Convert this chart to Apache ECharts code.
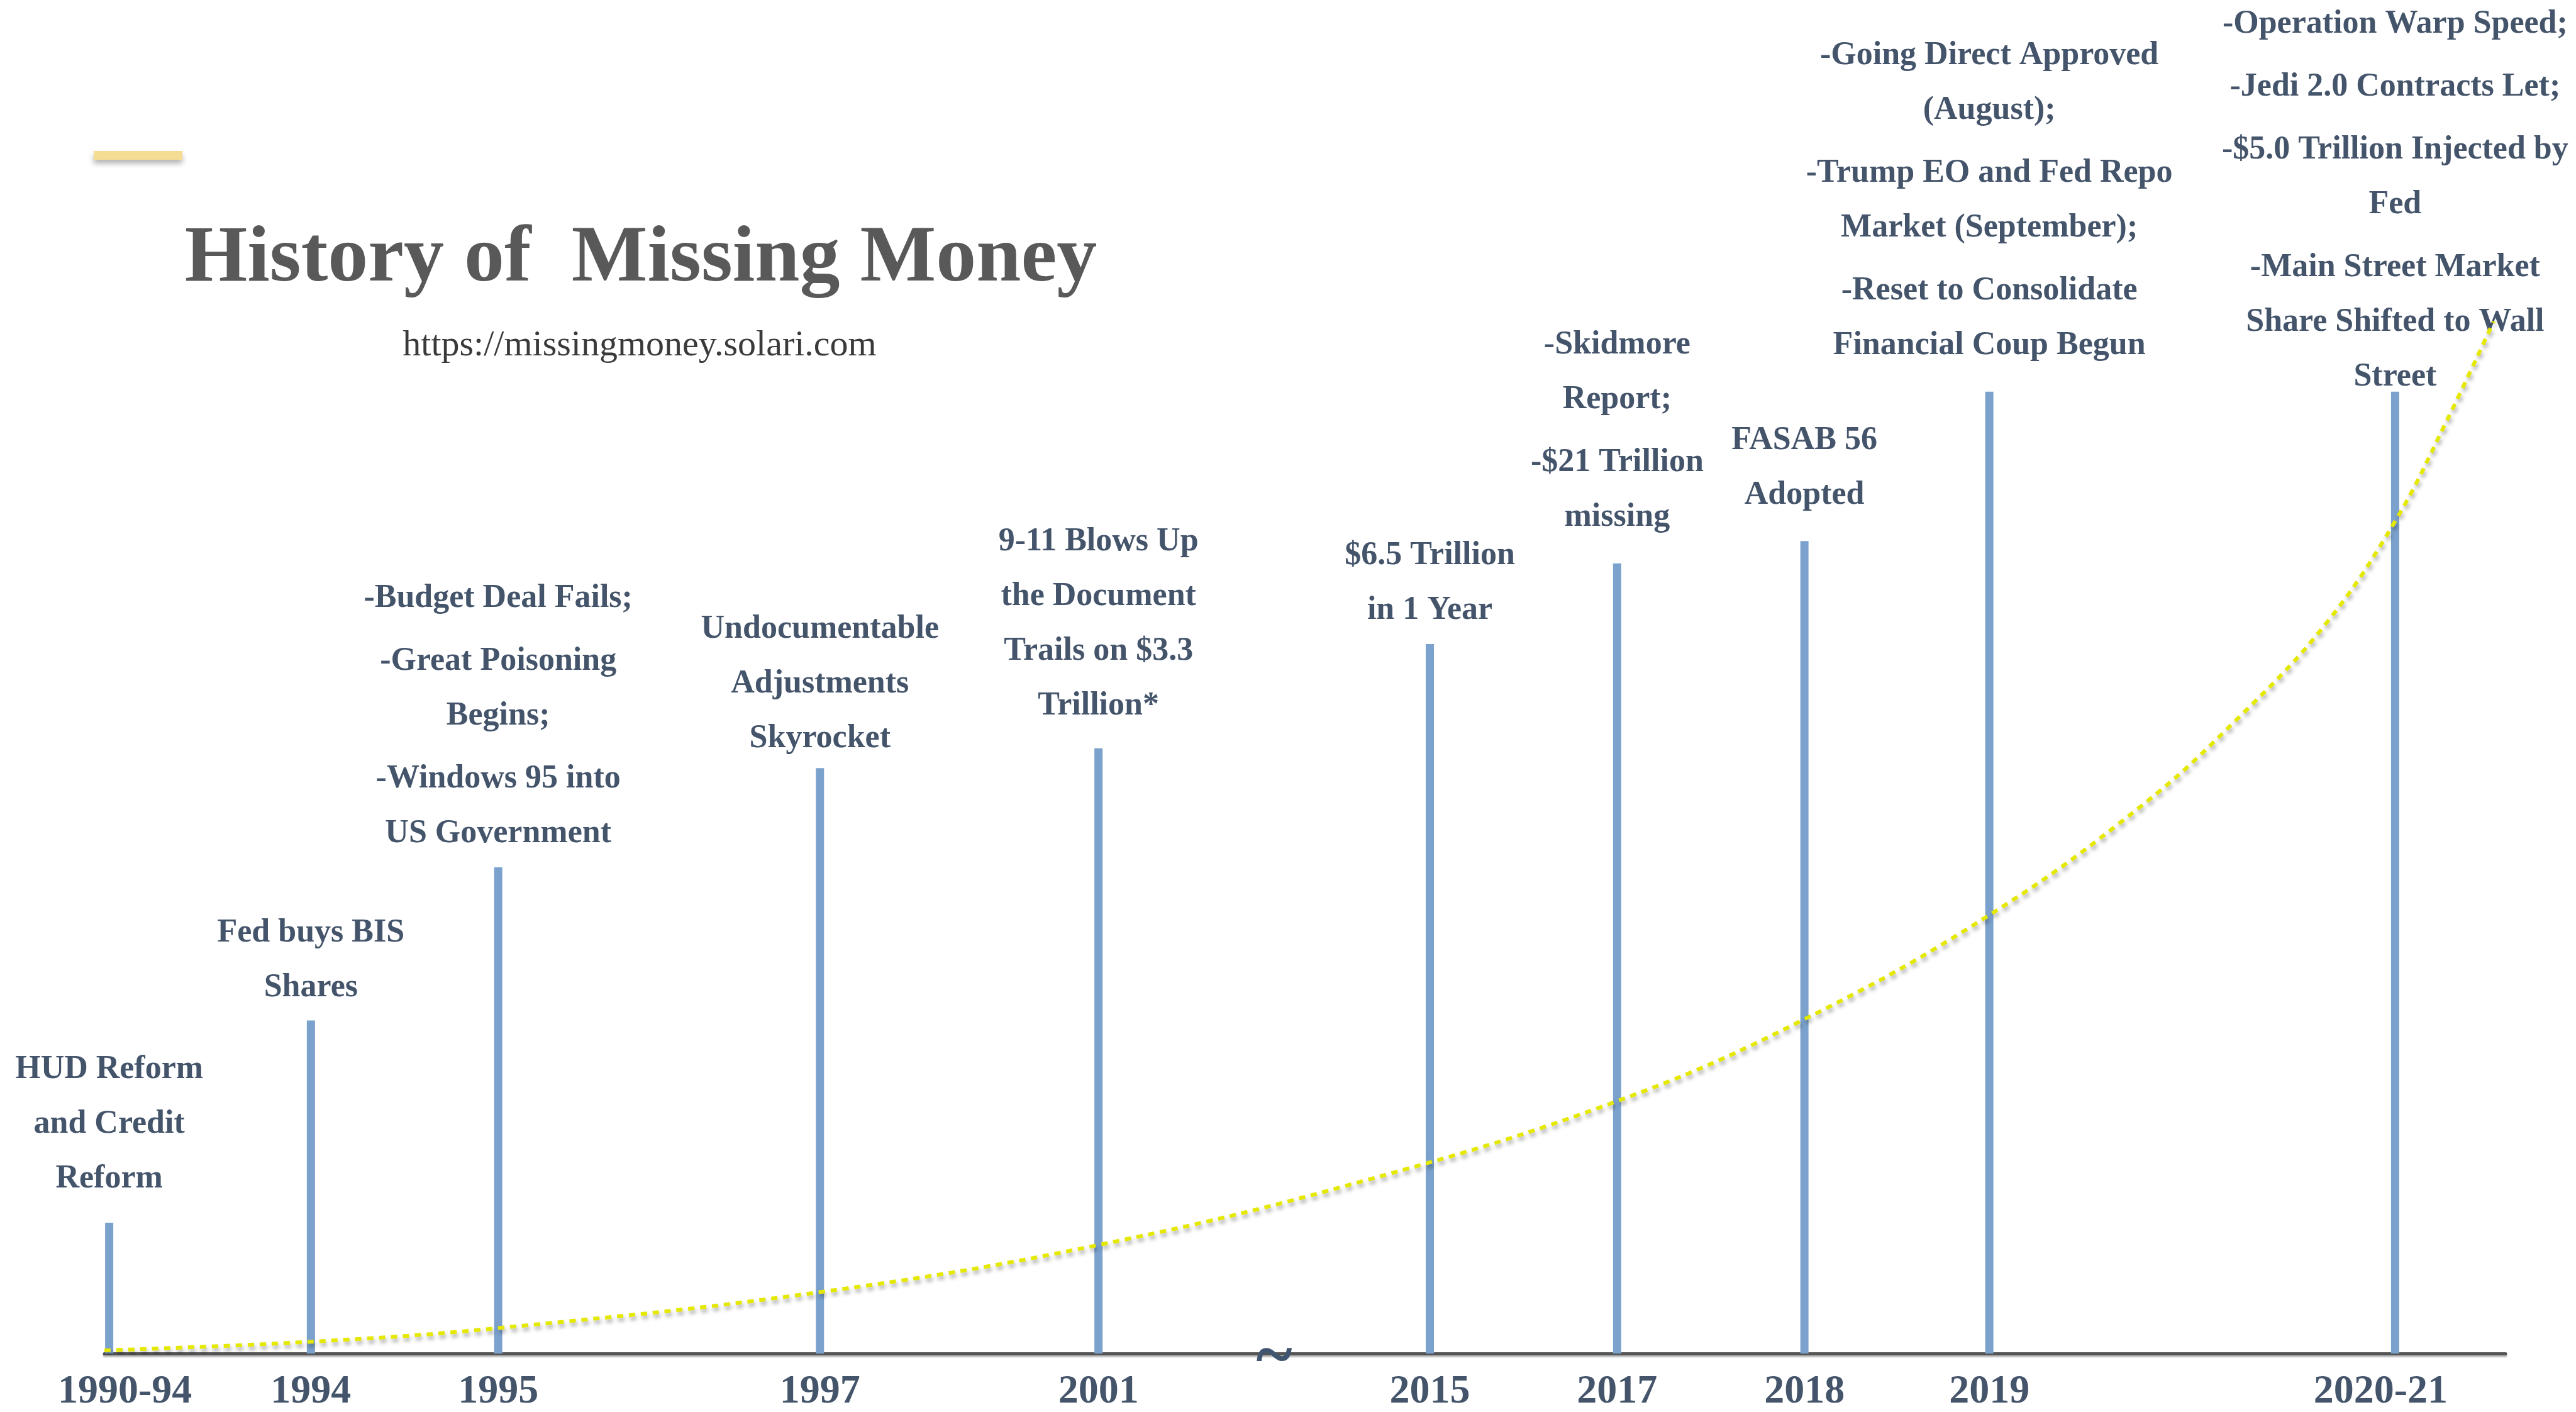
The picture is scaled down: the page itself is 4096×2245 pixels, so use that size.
<!DOCTYPE html>
<html>
<head>
<meta charset="utf-8">
<title>History of Missing Money</title>
<script src="https://cdn.jsdelivr.net/npm/echarts@6/dist/echarts.min.js"></script>
<style>
  html, body { margin: 0; padding: 0; background: #fff; }
  #chart { width: 4096px; height: 2245px; }
</style>
</head>
<body>
<div id="chart"></div>
<script>
// timeline data (position along the broken time axis, 0-100)
const eventLabels = ['1990-94', '1994', '1995', '1997', '2001', '2015', '2017', '2018', '2019', '2020-21'];
const eventPos = [0.2, 8.6, 16.4, 29.8, 41.4, 55.2, 63.0, 70.8, 78.5, 95.4];
const barHeights = [10.55, 26.85, 39.2, 47.2, 48.8, 57.2, 63.7, 65.5, 77.55, 77.55];

// notes above each bar: one entry per paragraph, \n = line break
const eventNotes = [
  ['HUD Reform\nand Credit\nReform'],
  ['Fed buys BIS\nShares'],
  ['-Budget Deal Fails;', '-Great Poisoning\nBegins;', '-Windows 95 into\nUS Government'],
  ['Undocumentable\nAdjustments\nSkyrocket'],
  ['9-11 Blows Up\nthe Document\nTrails on $3.3\nTrillion*'],
  ['$6.5 Trillion\nin 1 Year'],
  ['-Skidmore\nReport;', '-$21 Trillion\nmissing'],
  ['FASAB 56\nAdopted'],
  ['-Going Direct Approved\n(August);', '-Trump EO and Fed Repo\nMarket (September);', '-Reset to Consolidate\nFinancial Coup Begun'],
  ['-Operation Warp Speed;', '-Jedi 2.0 Contracts Let;', '-$5.0 Trillion Injected by\nFed', '-Main Street Market\nShare Shifted to Wall\nStreet']
];

// dotted growth curve
const trendX = [0, 8.6, 16.4, 29.8, 41.4, 52.6, 63.0, 70.8, 78.5, 84.8, 88.9, 92.5, 95.4, 97.5, 99.5];
const trendY = [0.25, 0.95, 2.05, 4.95, 8.75, 14.0, 20.35, 26.95, 35.35, 44.1, 51.3, 58.8, 67.1, 75.0, 83.2];

const serif = '"Liberation Serif", "Times New Roman", serif';
const noteColor = '#44546a';
// gap between each note and its bar (px)
const noteLift = [26, 8, 10, 3, 24, 10, 30, 29, 30, -20];

function buildNote(paras) {
  return paras
    .map(p => p.split('\n').map(l => '{t|' + l + '}').join('\n'))
    .join('\n{g| }\n');
}

const tickFont = { fontFamily: serif, fontWeight: 'bold', fontSize: 64, color: noteColor };

const chart = echarts.init(document.getElementById('chart'));

chart.setOption({
  animation: false,
  backgroundColor: '#ffffff',
  grid: { left: 166, top: 180, width: 3818, height: 1978 },
  xAxis: {
    type: 'value',
    min: 0,
    max: 100,
    splitLine: { show: false },
    axisTick: { show: false },
    axisLine: {
      show: true,
      lineStyle: {
        color: '#555555',
        width: 5,
        shadowColor: 'rgba(0,0,0,0.25)',
        shadowOffsetY: 3,
        shadowBlur: 2
      }
    },
    axisLabel: {
      customValues: eventPos,
      formatter: (v) => {
        const i = eventPos.findIndex(p => Math.abs(p - v) < 1e-6);
        if (i < 0) return '';
        if (i === 0) return '{first|' + eventLabels[i] + '}';
        if (i === eventLabels.length - 1) return '{last|' + eventLabels[i] + '}';
        return eventLabels[i];
      },
      margin: 61,
      verticalAlign: 'middle',
      ...tickFont,
      rich: {
        first: { ...tickFont, padding: [0, 0, 0, 50] },
        last: { ...tickFont, padding: [0, 46, 0, 0] }
      }
    }
  },
  yAxis: { type: 'value', min: 0, max: 100, show: false },
  series: [
    {
      type: 'bar',
      barWidth: 13,
      itemStyle: { color: '#7ba2cd' },
      data: eventPos.map((p, i) => ({
        value: [p, barHeights[i]],
        label: { distance: noteLift[i] }
      })),
      label: {
        show: true,
        position: 'top',
        align: 'center',
        formatter: (params) => buildNote(eventNotes[params.dataIndex]),
        rich: {
          t: {
            fontFamily: serif,
            fontWeight: 'bold',
            fontSize: 52,
            lineHeight: 87,
            color: noteColor,
            align: 'center'
          },
          g: { fontSize: 1, lineHeight: 13 }
        }
      },
      z: 2
    },
    {
      type: 'line',
      smooth: 0.4,
      symbol: 'none',
      data: trendX.map((x, i) => [x, trendY[i]]),
      lineStyle: {
        color: '#e5e800',
        width: 6,
        type: [10, 9],
        cap: 'butt',
        shadowColor: 'rgba(0,0,0,0.35)',
        shadowBlur: 6,
        shadowOffsetX: 2,
        shadowOffsetY: 5
      },
      z: 3
    }
  ],
  graphic: [
    {
      type: 'rect',
      shape: { x: 149, y: 240, width: 141, height: 14 },
      style: {
        fill: '#f5dc93',
        shadowColor: 'rgba(0,0,0,0.3)',
        shadowBlur: 8,
        shadowOffsetY: 6
      }
    },
    {
      type: 'text',
      x: 1019,
      y: 413,
      style: {
        text: 'History of  Missing Money',
        font: 'bold 128px ' + serif,
        fill: '#595959',
        textAlign: 'center',
        textVerticalAlign: 'middle'
      }
    },
    {
      type: 'text',
      x: 1017,
      y: 550,
      style: {
        text: 'https://missingmoney.solari.com',
        font: '58px ' + serif,
        fill: '#3a3a3a',
        textAlign: 'center',
        textVerticalAlign: 'middle'
      }
    },
    {
      type: 'text',
      x: 2026,
      y: 2162,
      z: 10,
      style: {
        text: '~',
        font: 'bold 110px ' + serif,
        fill: '#3f5570',
        textAlign: 'center',
        textVerticalAlign: 'middle'
      }
    }
  ]
});
</script>
</body>
</html>
